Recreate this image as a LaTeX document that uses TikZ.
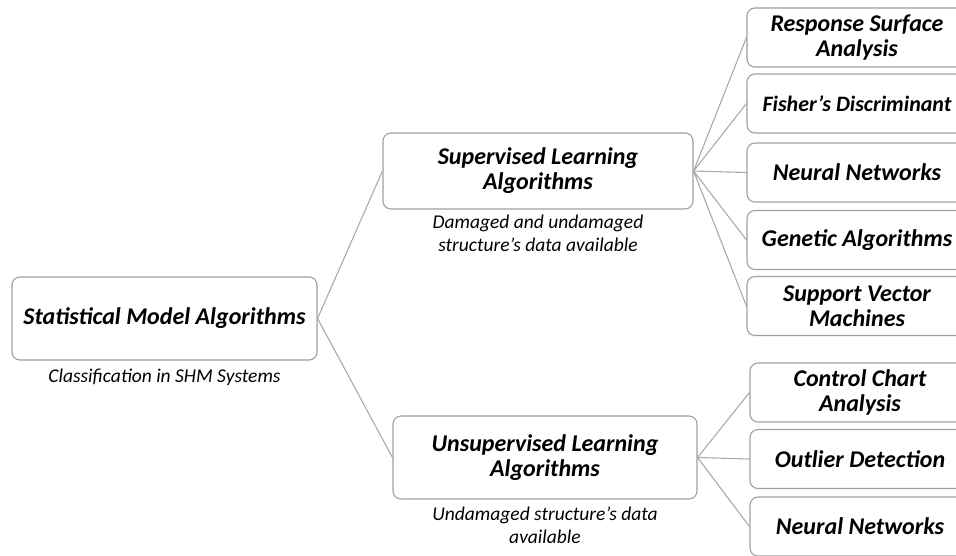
\documentclass[tikz,border=0pt]{standalone}
\usepackage{fontspec}
\setmainfont{Carlito}
\definecolor{boxgray}{RGB}{160,160,160}
\definecolor{linkgray}{RGB}{170,170,170}
\tikzset{
  algbox/.style={draw=boxgray, line width=1.1pt, rounded corners=8pt, fill=white,
    align=center, inner sep=0pt, font=\fontsize{24}{25}\selectfont\bfseries\itshape},
  leafbox/.style={algbox, minimum width=220pt, minimum height=59pt},
  note/.style={align=center, inner sep=0pt, font=\fontsize{19.5}{23}\selectfont\itshape},
  link/.style={draw=linkgray, line width=1.1pt}
}
\begin{document}
\begin{tikzpicture}[x=1pt, y=-1pt, line join=round, line cap=round]
  \useasboundingbox (0,0) rectangle (956,555);
  \clip (0,0) rectangle (956,555);
  % main levels
  \node[algbox, minimum width=305pt, minimum height=83pt] (sma) at (164.5,318.5) {Statistical Model Algorithms};
  \node[note] (smanote) at (164.5,377) {Classification in SHM Systems};
  \node[algbox, minimum width=310pt, minimum height=76pt] (sup) at (538,171) {Supervised Learning\\Algorithms};
  \node[note] (supnote) at (538,233) {Damaged and undamaged\\structure’s data available};
  \node[algbox, minimum width=304pt, minimum height=83pt] (uns) at (545,457.5) {Unsupervised Learning\\Algorithms};
  \node[note] (unsnote) at (545,525) {Undamaged structure’s data\\available};
  % supervised methods
  \node[leafbox] (rsa) at (857,37.5) {Response Surface\\Analysis};
  \node[leafbox, font=\fontsize{22}{25}\selectfont\bfseries\itshape] (fd) at (857,103.5) {Fisher’s Discriminant};
  \node[leafbox] (nn) at (857,172.5) {Neural Networks};
  \node[leafbox] (ga) at (857,240) {Genetic Algorithms};
  \node[leafbox] (svm) at (857,306) {Support Vector\\Machines};
  % unsupervised methods
  \node[leafbox] (cca) at (860,392.5) {Control Chart\\Analysis};
  \node[leafbox] (od) at (860,459) {Outlier Detection};
  \node[leafbox] (nnu) at (860,526.5) {Neural Networks};
  % links
  \draw[link] (sma.east) -- (sup.west) (sma.east) -- (uns.west);
  \draw[link] (sup.east) -- (rsa.west) (sup.east) -- (fd.west) (sup.east) -- (nn.west)
    (sup.east) -- (ga.west) (sup.east) -- (svm.west);
  \draw[link] (uns.east) -- (cca.west) (uns.east) -- (od.west) (uns.east) -- (nnu.west);
\end{tikzpicture}
\end{document}
